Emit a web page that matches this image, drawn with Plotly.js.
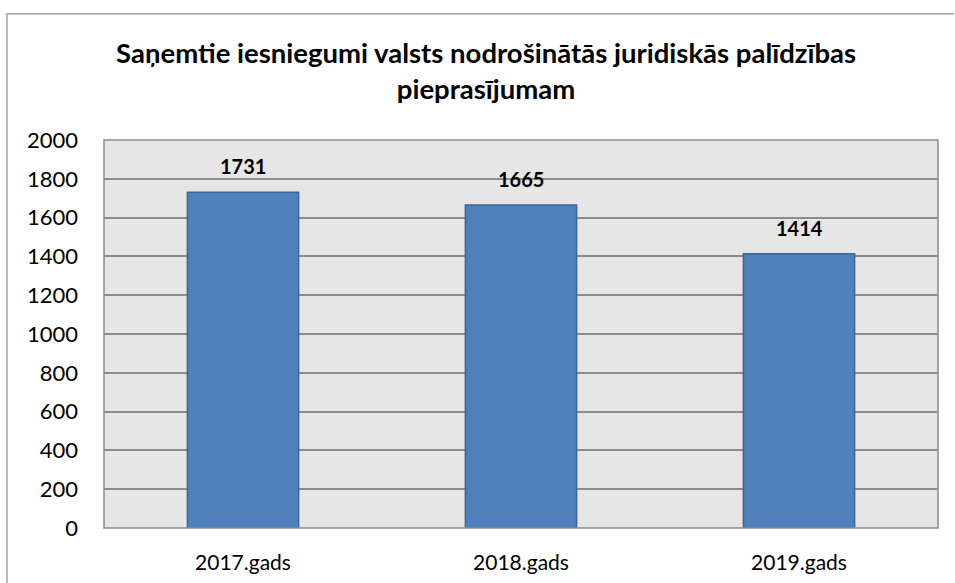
<!DOCTYPE html>
<html>
<head>
<meta charset="utf-8">
<script src="https://cdn.plot.ly/plotly-3.0.1.min.js"></script>
<style>html,body{margin:0;padding:0;background:#fff;overflow:hidden;}</style>
</head>
<body>
<div id="chart" style="width:955px;height:583px;"></div>
<script>
const categories = ["2017.gads", "2018.gads", "2019.gads"];
const values = [1731, 1665, 1414];
const yTicks = [0, 200, 400, 600, 800, 1000, 1200, 1400, 1600, 1800, 2000];
const titleText = "Saņemtie iesniegumi valsts nodrošinātās juridiskās palīdzības<br>pieprasījumam";

const FONT = "Lato, 'Open Sans', sans-serif";

const trace = {
  type: "bar",
  x: categories,
  y: values,
  marker: {color: "#4f81bd", line: {color: "#3a6595", width: 1.5}},
  width: 0.4,
  hoverinfo: "x+y"
};

const annotations = categories.map((c, i) => ({
  x: c, y: values[i], xref: "x", yref: "y",
  text: "<b>" + values[i] + "</b>",
  showarrow: false, yanchor: "bottom", yshift: 12,
  font: {family: FONT, size: 20, color: "#000"}
}));

const layout = {
  width: 955, height: 583,
  margin: {l: 104, r: 17, t: 140, b: 55},
  paper_bgcolor: "#ffffff",
  plot_bgcolor: "#e6e6e6",
  font: {family: FONT, color: "#000"},
  title: {
    text: "<b>" + titleText + "</b>",
    font: {family: FONT, size: 27.5, color: "#000"},
    x: 0.509, xref: "container", xanchor: "center",
    y: 0.892, yref: "container", yanchor: "middle"
  },
  xaxis: {
    type: "category",
    showgrid: false,
    showline: false,
    ticks: "",
    tickfont: {family: FONT, size: 21, color: "#000"},
    ticklabelstandoff: 20,
    fixedrange: true
  },
  yaxis: {
    range: [0, 2000],
    tickvals: yTicks,
    ticktext: yTicks.map(String),
    showgrid: true,
    gridcolor: "#8c8c8c",
    gridwidth: 1.5,
    zeroline: false,
    showline: false,
    ticks: "",
    tickfont: {family: FONT, size: 22, color: "#000"},
    ticklabelstandoff: 25,
    fixedrange: true
  },
  shapes: [
    {type: "rect", xref: "paper", yref: "paper", x0: 0, x1: 1, y0: 0, y1: 1,
     line: {color: "#8c8c8c", width: 1.5}, layer: "above"},
    {type: "path", xref: "paper", yref: "paper",
     path: "M -0.1163,-0.2 L -0.1163,1.325 L 1.019,1.325",
     line: {color: "#8c8c8c", width: 1.2}, layer: "below"}
  ],
  annotations: annotations,
  showlegend: false,
  bargap: 0.6
};

Plotly.newPlot("chart", [trace], layout, {displayModeBar: false});
</script>
</body>
</html>
